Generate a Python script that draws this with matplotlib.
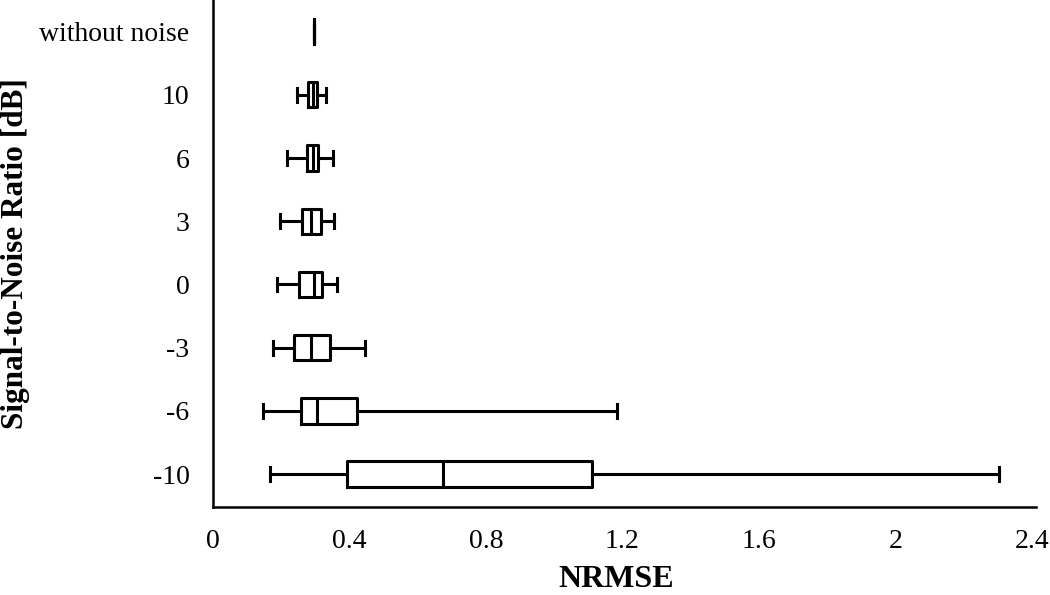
import matplotlib.pyplot as plt

# --- data (bottom to top) ---
snr_labels = ["-10", "-6", "-3", "0", "3", "6", "10", "without noise"]
whisker_low = [0.167, 0.147, 0.177, 0.187, 0.196, 0.216, 0.245, 0.297]
q1 = [0.392, 0.257, 0.238, 0.253, 0.261, 0.276, 0.279, 0.297]
median = [0.675, 0.304, 0.287, 0.296, 0.287, 0.292, 0.294, 0.297]
q3 = [1.112, 0.423, 0.343, 0.320, 0.316, 0.309, 0.304, 0.297]
whisker_high = [2.305, 1.184, 0.445, 0.362, 0.355, 0.351, 0.331, 0.297]

stats = []
for i, lab in enumerate(snr_labels):
    stats.append({
        "label": lab,
        "whislo": whisker_low[i],
        "q1": q1[i],
        "med": median[i],
        "q3": q3[i],
        "whishi": whisker_high[i],
        "fliers": [],
    })

plt.rcParams["font.family"] = ["Liberation Serif", "DejaVu Serif"]

fig = plt.figure(figsize=(10.5, 5.95), dpi=100)
ax = fig.add_axes([213 / 1050, 1 - 507 / 595, (1036 - 213) / 1050, 507 / 595])

lw = 2.2
ax.bxp(stats, positions=range(1, len(stats) + 1), orientation="horizontal",
       widths=0.4, capwidths=0.22, showfliers=False,
       boxprops=dict(color="black", linewidth=lw),
       medianprops=dict(color="black", linewidth=lw),
       whiskerprops=dict(color="black", linewidth=lw),
       capprops=dict(color="black", linewidth=lw))

ax.set_xlim(0, 2.412)
ax.set_ylim(0.48, 8.5)
ax.set_xticks([0, 0.4, 0.8, 1.2, 1.6, 2.0, 2.4])
ax.set_xticklabels(["0", "0.4", "0.8", "1.2", "1.6", "2", "2.4"])
ax.tick_params(axis="both", length=0, labelsize=20)
ax.tick_params(axis="y", pad=17)
ax.tick_params(axis="x", pad=16)

for s in ["top", "right"]:
    ax.spines[s].set_visible(False)
for s in ["left", "bottom"]:
    ax.spines[s].set_linewidth(1.8)

ax.set_xlabel("NRMSE", fontsize=23, fontweight="bold")
ax.set_ylabel("Signal-to-Noise Ratio [dB]", fontsize=22.5, fontweight="bold")
ax.xaxis.set_label_coords(0.49, -0.115)
ax.yaxis.set_label_coords(-0.222, 0.5)

fig.savefig("out.png", dpi=100)
